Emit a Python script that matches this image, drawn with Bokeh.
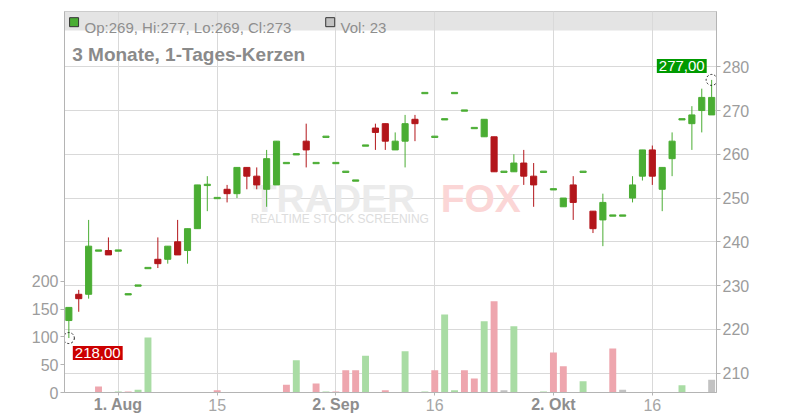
from bokeh.plotting import figure
from bokeh.models import Range1d, LinearAxis, FixedTicker, Label, BoxAnnotation
from bokeh.core.properties import value
from bokeh.embed import file_html
from bokeh.resources import INLINE

# ---- data (daily candles, 25 Jul 2024 .. 24 Oct 2024, trading-day index) ----
opens = [222, 228, 228, 238, 238, 238, 228, 230, 234, 236, 236, 240, 238, 243, 253, 250, 252, 251, 257, 255,
         252, 253, 258, 260, 263, 258, 264, 258, 256, 254, 262, 266, 267, 261, 263, 268, 274, 264, 268, 274,
         270, 266, 264, 264, 256, 256, 258, 255, 256, 252, 248, 253, 256, 247, 245, 246, 246, 250, 255, 261,
         252, 259, 268, 267, 270, 269]
highs = [225, 229, 245, 238, 241, 238, 228, 230, 234, 241, 239, 245, 243, 253, 255, 250, 253, 257, 257, 257,
         261, 263, 258, 260, 267, 258, 264, 258, 256, 254, 262, 267, 267, 265, 269, 269, 274, 264, 268, 274,
         270, 266, 268, 264, 256, 260, 261, 258, 256, 252, 250, 255, 256, 247, 251, 246, 246, 255, 261, 262,
         257, 265, 268, 271, 275, 277]
lows = [218, 224, 227, 238, 237, 238, 228, 230, 234, 234, 235, 237, 235, 243, 247, 250, 249, 250, 252, 252,
        248, 253, 258, 260, 257, 258, 264, 258, 256, 254, 262, 261, 261, 261, 257, 263, 274, 264, 268, 274,
        270, 266, 264, 256, 256, 256, 253, 248, 256, 252, 248, 245, 256, 242, 239, 246, 246, 249, 254, 253,
        247, 255, 268, 261, 265, 269]
closes = [225, 227, 239, 238, 237, 238, 228, 230, 234, 235, 239, 237, 243, 253, 253, 250, 251, 257, 255, 253,
          259, 263, 258, 260, 261, 258, 264, 258, 256, 254, 262, 265, 263, 263, 267, 267, 274, 264, 268, 274,
          270, 266, 268, 256, 256, 258, 255, 253, 256, 252, 250, 249, 256, 243, 249, 246, 246, 253, 261, 255,
          257, 263, 268, 269, 273, 273]
volumes = [0, 0, 0, 11, 0, 2, 2, 5, 99, 0, 0, 0, 0, 0, 0, 4, 0, 0, 0, 0,
           0, 0, 14, 58, 0, 16, 2, 2, 40, 40, 66, 0, 4, 0, 74, 0, 2, 40, 140, 4,
           40, 25, 128, 164, 4, 119, 0, 0, 2, 72, 47, 0, 20, 0, 0, 79, 5, 0, 0, 0,
           0, 0, 13, 0, 0, 23]

tick_idx = [5, 15, 27, 37, 49, 59]
tick_text = ["1. Aug", "15", "2. Sep", "16", "2. Okt", "16"]
tick_bold = [True, False, True, False, True, False]
price_ticks = [210, 220, 230, 240, 250, 260, 270, 280]
vol_ticks = [0, 50, 100, 150, 200]

title_text = "3 Monate, 1-Tages-Kerzen"

# ---- styling ----
GREEN = "#4aad33"
RED = "#b3161b"
VGREEN = "#a9dca4"
VRED = "#eea6ae"
VGRAY = "#c2c2c2"
FONT = "Liberation Sans"
AXCOL = "#b4b4b4"
GRAYTXT = "#9c9c9c"

n = len(opens)
idx = list(range(n))
ccol = [GREEN if c >= o else RED for o, c in zip(opens, closes)]
btop, bbot = [], []
for o, c in zip(opens, closes):
    if o == c:
        btop.append(o + 0.15)
        bbot.append(o - 0.15)
    else:
        btop.append(max(o, c))
        bbot.append(min(o, c))
vcol = []
for i in range(n):
    prev = closes[i - 1] if i > 0 else opens[0]
    vcol.append(VGREEN if closes[i] > prev else (VRED if closes[i] < prev else VGRAY))

PMIN, PMAX = 205.55, 292.64
p = figure(width=800, height=420, output_backend="svg", toolbar_location=None,
           x_range=Range1d(-0.44, 65.49), y_range=Range1d(PMIN, PMAX),
           y_axis_location="right",
           min_border_left=64, min_border_right=84, min_border_top=11, min_border_bottom=28)
p.extra_y_ranges = {"vol": Range1d(0, 684.6)}
p.background_fill_color = "white"
p.border_fill_color = "white"
p.outline_line_color = "#c4c4c4"

# header band (drawn beneath the grid)
band = BoxAnnotation(bottom=288.3, fill_color="#e4e4e4", fill_alpha=1.0, line_alpha=0, level="underlay")
p.center = [band] + list(p.center)

# axes
ra = p.yaxis[0]
ra.ticker = FixedTicker(ticks=price_ticks)
ra.minor_tick_line_color = None
ra.major_tick_in = 0
ra.major_tick_out = 4
ra.major_label_standoff = 2
ra.axis_line_color = AXCOL
ra.major_tick_line_color = AXCOL
ra.major_label_text_color = GRAYTXT
ra.major_label_text_font = FONT
ra.major_label_text_font_size = "16px"

la = LinearAxis(y_range_name="vol", ticker=FixedTicker(ticks=vol_ticks))
la.minor_tick_line_color = None
la.major_tick_in = 0
la.major_tick_out = 4
la.major_label_standoff = 2
la.axis_line_color = AXCOL
la.major_tick_line_color = AXCOL
la.major_label_text_color = GRAYTXT
la.major_label_text_font = FONT
la.major_label_text_font_size = "16px"
p.add_layout(la, "left")

# regular (day) labels on the main x axis
xa = p.xaxis[0]
xa.ticker = FixedTicker(ticks=tick_idx)
xa.major_label_overrides = {t: ("" if b else s) for t, s, b in zip(tick_idx, tick_text, tick_bold)}
xa.minor_tick_line_color = None
xa.major_tick_in = 0
xa.major_tick_out = 3
xa.major_label_standoff = 3
xa.axis_line_color = AXCOL
xa.major_tick_line_color = AXCOL
xa.major_label_text_color = "#a6a6a6"
xa.major_label_text_font = FONT
xa.major_label_text_font_size = "16px"

# bold month labels: second x axis, pulled up onto the first one's label row
xb = LinearAxis(ticker=FixedTicker(ticks=tick_idx))
xb.major_label_overrides = {t: (s if b else "") for t, s, b in zip(tick_idx, tick_text, tick_bold)}
xb.minor_tick_line_color = None
xb.major_tick_in = 0
xb.major_tick_out = 0
xb.major_label_standoff = -18
xb.axis_line_color = None
xb.major_tick_line_color = None
xb.major_label_text_color = "#8e8e8e"
xb.major_label_text_font = FONT
xb.major_label_text_font_style = "bold"
xb.major_label_text_font_size = "16px"
p.add_layout(xb, "below")

p.xgrid.ticker = FixedTicker(ticks=tick_idx)
p.ygrid.ticker = FixedTicker(ticks=price_ticks)
p.xgrid.grid_line_color = "#d9d9d9"
p.ygrid.grid_line_color = "#d9d9d9"

# watermark
p.text(x=[18.6], y=[249.9], text=["TRADER"], text_font=value(FONT), text_font_style="bold",
       text_font_size="39px", text_color="#ebebeb", text_baseline="alphabetic")
p.text(x=[37.6], y=[249.9], text=["FOX"], text_font=value(FONT), text_font_style="bold",
       text_font_size="39px", text_color="#fbd6d6", text_baseline="alphabetic")
p.text(x=[27.4], y=[245.3], text=["REALTIME STOCK SCREENING"], text_font=value(FONT),
       text_font_size="12px", text_color="#dddddd", text_align="center", text_baseline="middle")

# volume
p.vbar(x=idx, top=volumes, bottom=0, width=0.7, fill_color=vcol, line_color=None, y_range_name="vol")

# candles
p.segment(x0=idx, y0=lows, x1=idx, y1=highs, line_color=ccol, line_width=1)
p.vbar(x=idx, top=btop, bottom=bbot, width=0.62, fill_color=ccol, line_color=ccol, line_width=1)

# extreme markers
hi_i = max(range(n), key=lambda i: highs[i])
lo_i = min(range(n), key=lambda i: lows[i])
p.scatter(x=[hi_i, lo_i], y=[highs[hi_i], lows[lo_i]], marker="circle", size=11,
          fill_color=None, line_color="#222222", line_dash="2 2", line_width=1)

def de(v):
    return f"{v:.2f}".replace(".", ",")

p.add_layout(Label(x=hi_i - 0.5, y=highs[hi_i] + 3.2, text=de(highs[hi_i]), text_align="right",
                   text_baseline="middle", text_font=FONT, text_font_size="15px", text_color="white",
                   background_fill_color="#009a00", padding=2))
p.add_layout(Label(x=lo_i + 0.4, y=lows[lo_i] - 3.4, text=de(lows[lo_i]), text_align="left",
                   text_baseline="middle", text_font=FONT, text_font_size="15px", text_color="white",
                   background_fill_color="#cc0000", padding=2))

# header legend
p.scatter(x=[0.53, 26.43], y=[290.2, 290.2], marker="square", size=9,
          fill_color=[GREEN, VGRAY], line_color="#333333", line_width=1)
p.add_layout(Label(x=1.59, y=288.91,
                   text=f"Op:{opens[-1]}, Hi:{highs[-1]}, Lo:{lows[-1]}, Cl:{closes[-1]}",
                   text_font=FONT, text_font_size="15px", text_color="#8e8e8e", text_baseline="alphabetic"))
p.add_layout(Label(x=27.47, y=288.91, text=f"Vol: {volumes[-1]}",
                   text_font=FONT, text_font_size="15px", text_color="#8e8e8e", text_baseline="alphabetic"))
p.add_layout(Label(x=0.34, y=282.81, text=title_text, text_font=FONT, text_font_size="19px",
                   text_font_style="bold", text_color="#8a8a8a", text_baseline="alphabetic"))

open("out.html", "w").write(file_html(p, INLINE))
